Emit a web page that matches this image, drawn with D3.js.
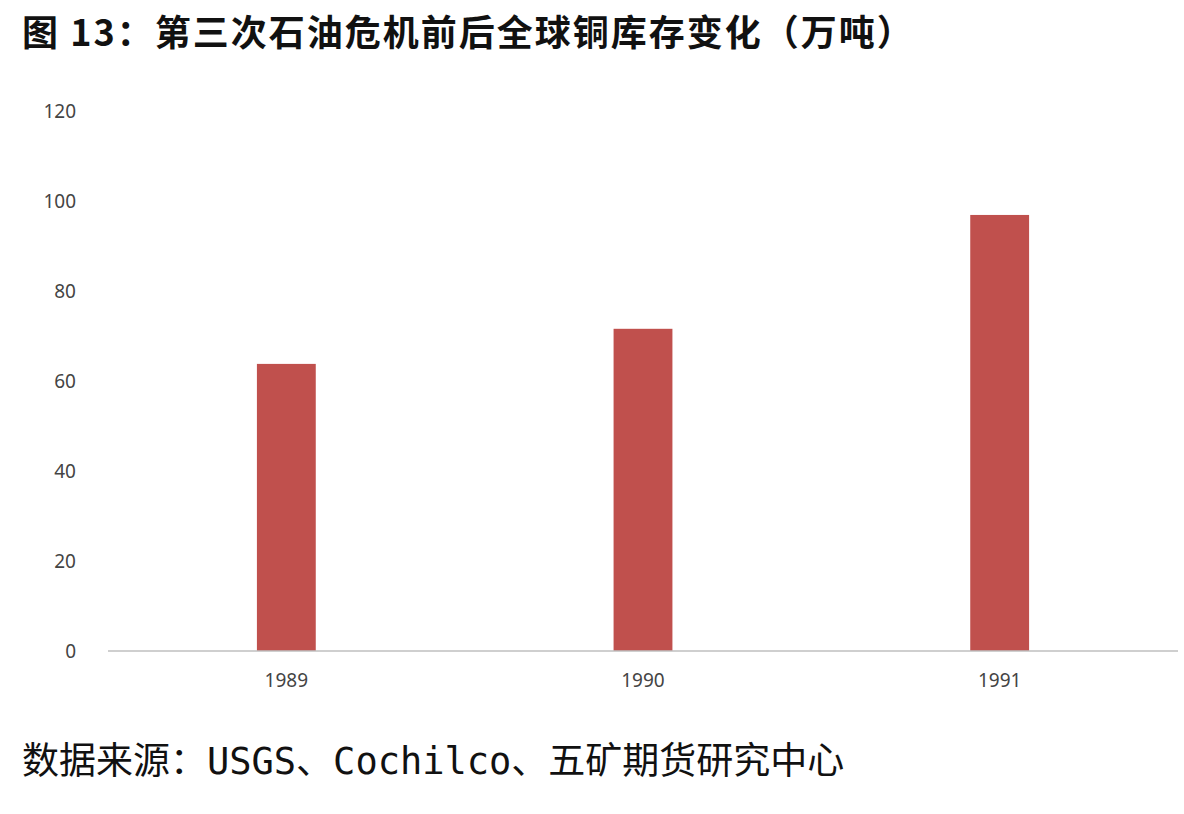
<!DOCTYPE html>
<html><head><meta charset="utf-8">
<script src="https://cdn.jsdelivr.net/npm/d3@7"></script>
<style>body{margin:0;background:#fff}</style>
</head><body><div id="chart"></div>
<script>
const years = ['1989', '1990', '1991'];
const stocks = [63.8, 71.6, 96.9];
const yTicks = [0, 20, 40, 60, 80, 100, 120];

const W = 1184, H = 814;
const svg = d3.select('#chart').append('svg').attr('width', W).attr('height', H);

svg.append('text').attr('x', 22).attr('y', 46)
    .attr('font-family', 'Noto Sans CJK SC').attr('font-weight', 'bold').attr('font-size', 36)
    .attr('letter-spacing', 2).attr('fill', '#111').text('图 13：第三次石油危机前后全球铜库存变化（万吨）');

const x = d3.scaleBand().domain(years).range([108, 1178]).paddingInner(0.835).paddingOuter(0.4175);
const y = d3.scaleLinear().domain([0, 120]).range([651, 111]);

svg.selectAll('rect').data(years).enter().append('rect')
    .attr('x', d => x(d)).attr('y', (d, i) => y(stocks[i]))
    .attr('width', x.bandwidth()).attr('height', (d, i) => 651 - y(stocks[i]))
    .attr('fill', '#c0504d');

svg.append('line').attr('x1', 108).attr('x2', 1178).attr('y1', 651).attr('y2', 651)
    .attr('stroke', '#bfbfbf').attr('stroke-width', 1.5);

svg.selectAll('.yt').data(yTicks).enter().append('text')
    .attr('x', 76).attr('y', d => y(d) + 7).attr('text-anchor', 'end')
    .attr('font-family', 'Noto Sans').attr('font-size', 19).attr('fill', '#444').text(d => d);

svg.selectAll('.xt').data(years).enter().append('text')
    .attr('x', d => x(d) + x.bandwidth() / 2).attr('y', 687).attr('text-anchor', 'middle')
    .attr('font-family', 'Noto Sans').attr('font-size', 19).attr('fill', '#444').text(d => d);

svg.append('text').attr('x', 22).attr('y', 774)
    .attr('font-family', 'DejaVu Sans Mono, Noto Sans CJK SC').attr('font-size', 37)
    .attr('fill', '#111').text('数据来源：USGS、Cochilco、五矿期货研究中心');
</script></body></html>
